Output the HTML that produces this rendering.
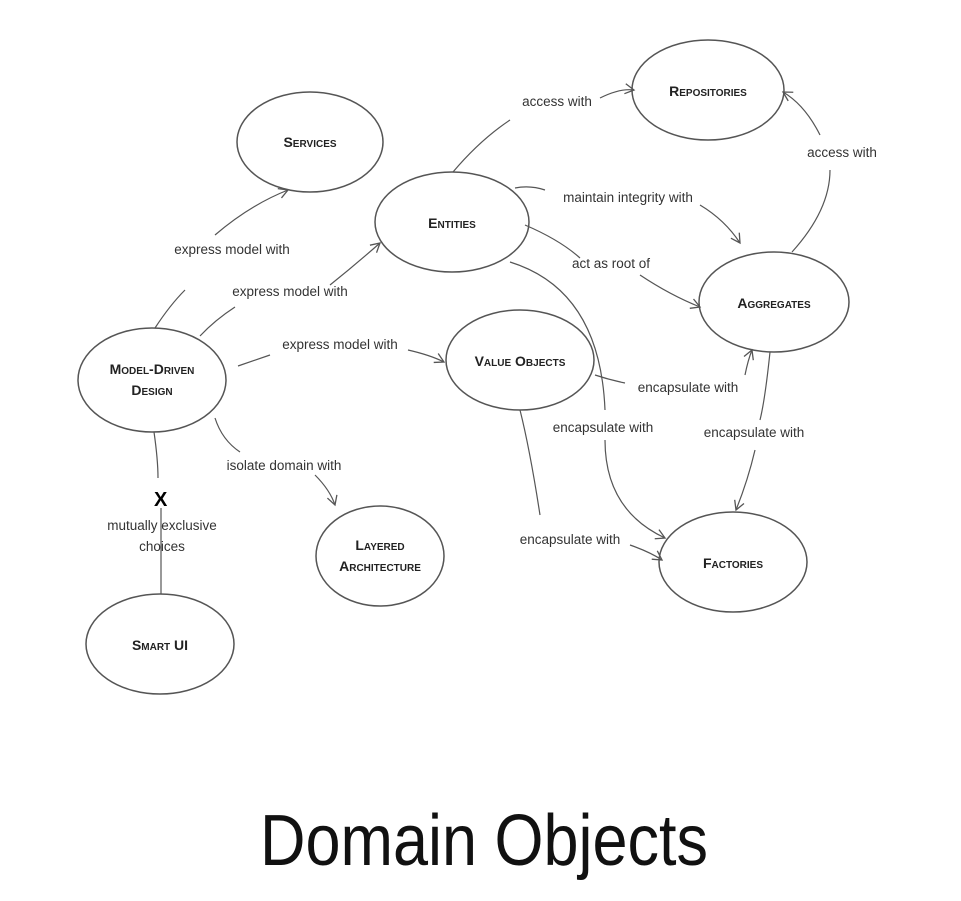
<!DOCTYPE html>
<html><head><meta charset="utf-8"><style>
html,body{margin:0;padding:0;background:#fff;}
svg{display:block;}
.n{fill:none;stroke:#555;stroke-width:1.5;}
.e{fill:none;stroke:#555;stroke-width:1.2;}
.t{font-family:"Liberation Sans",sans-serif;font-weight:bold;font-size:14px;fill:#222;text-anchor:middle;font-variant:small-caps;}
.l{font-family:"Liberation Sans",sans-serif;font-size:13.5px;fill:#333;text-anchor:middle;}
</style></head><body>
<svg width="961" height="901" viewBox="0 0 961 901">
<defs><marker id="a" markerWidth="12" markerHeight="12" refX="10" refY="6" orient="auto" markerUnits="userSpaceOnUse"><path d="M1,1 L10,6 L1,11" fill="none" stroke="#555" stroke-width="1.3"/></marker></defs>
<rect width="961" height="901" fill="#fff"/>
<ellipse class="n" cx="310" cy="142" rx="73" ry="50"/>
<ellipse class="n" cx="708" cy="90" rx="76" ry="50"/>
<ellipse class="n" cx="452" cy="222" rx="77" ry="50"/>
<ellipse class="n" cx="774" cy="302" rx="75" ry="50"/>
<ellipse class="n" cx="152" cy="380" rx="74" ry="52"/>
<ellipse class="n" cx="520" cy="360" rx="74" ry="50"/>
<ellipse class="n" cx="380" cy="556" rx="64" ry="50"/>
<ellipse class="n" cx="733" cy="562" rx="74" ry="50"/>
<ellipse class="n" cx="160" cy="644" rx="74" ry="50"/>
<text class="t" x="310" y="147">Services</text>
<text class="t" x="708" y="96">Repositories</text>
<text class="t" x="452" y="228">Entities</text>
<text class="t" x="774" y="308">Aggregates</text>
<text class="t" x="152" y="374">Model-Driven</text>
<text class="t" x="152" y="395">Design</text>
<text class="t" x="520" y="366">Value Objects</text>
<text class="t" x="380" y="550">Layered</text>
<text class="t" x="380" y="571">Architecture</text>
<text class="t" x="733" y="568">Factories</text>
<text class="t" x="160" y="650">Smart UI</text>
<path class="e" d="M155,328 Q170,305 185,290"/><path class="e" d="M215,235 Q250,205 288,190" marker-end="url(#a)"/>
<path class="e" d="M200,336 Q215,320 235,307"/><path class="e" d="M330,285 Q355,265 380,243" marker-end="url(#a)"/>
<path class="e" d="M238,366 L270,355"/><path class="e" d="M408,350 Q430,355 444,362" marker-end="url(#a)"/>
<path class="e" d="M215,418 Q222,440 240,452"/><path class="e" d="M315,475 Q330,490 335,505" marker-end="url(#a)"/>
<path class="e" d="M154,432 Q158,460 158,478"/><path class="e" d="M161,508 L161,594"/>
<path class="e" d="M453,172 Q480,140 510,120"/><path class="e" d="M600,98 Q620,88 634,90" marker-end="url(#a)"/>
<path class="e" d="M515,188 Q530,185 545,190"/><path class="e" d="M700,205 Q725,220 740,243" marker-end="url(#a)"/>
<path class="e" d="M525,225 Q560,240 580,258"/><path class="e" d="M640,275 Q670,295 700,307" marker-end="url(#a)"/>
<path class="e" d="M510,262 Q600,290 605,410"/><path class="e" d="M605,440 Q605,510 665,538" marker-end="url(#a)"/>
<path class="e" d="M595,375 Q610,380 625,383"/><path class="e" d="M745,375 Q748,360 752,350" marker-end="url(#a)"/>
<path class="e" d="M520,410 Q530,450 540,515"/><path class="e" d="M630,545 Q650,552 662,560" marker-end="url(#a)"/>
<path class="e" d="M770,352 Q765,400 760,420"/><path class="e" d="M755,450 Q748,480 736,510" marker-end="url(#a)"/>
<path class="e" d="M792,252 Q830,210 830,170"/><path class="e" d="M820,135 Q805,105 783,92" marker-end="url(#a)"/>
<text class="l" x="232" y="254">express model with</text>
<text class="l" x="290" y="296">express model with</text>
<text class="l" x="340" y="349">express model with</text>
<text class="l" x="284" y="470">isolate domain with</text>
<text style="font-family:'Liberation Sans',sans-serif;font-weight:bold;font-size:20px;" x="154" y="506">X</text>
<text class="l" x="162" y="530">mutually exclusive</text>
<text class="l" x="162" y="551">choices</text>
<text class="l" x="557" y="106">access with</text>
<text class="l" x="628" y="202">maintain integrity with</text>
<text class="l" x="611" y="268">act as root of</text>
<text class="l" x="688" y="392">encapsulate with</text>
<text class="l" x="603" y="432">encapsulate with</text>
<text class="l" x="754" y="437">encapsulate with</text>
<text class="l" x="570" y="544">encapsulate with</text>
<text class="l" x="842" y="157">access with</text>
<text transform="translate(484,865) scale(1,1.15)" style="font-family:'Liberation Sans',sans-serif;font-size:63px;fill:#111;text-anchor:middle;">Domain Objects</text>
</svg>
</body></html>
